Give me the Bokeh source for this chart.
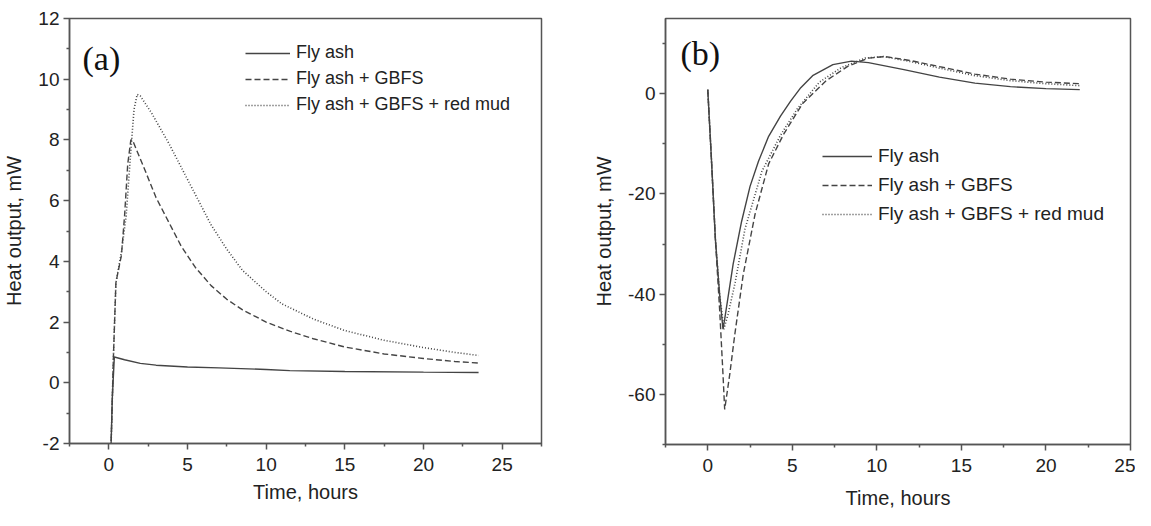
from bokeh.plotting import figure
from bokeh.layouts import row
from bokeh.models import FixedTicker, Range1d, Legend, LegendItem, Label
from bokeh.embed import file_html
from bokeh.resources import INLINE

# ---------------- Panel (a) data ----------------
a_fly_x = [0.12, 0.22, 0.35, 1.0, 2.0, 3.0, 5.0, 7.0, 10.0, 11.5, 15.0, 20.0, 23.5]
a_fly_y = [-2.5, -0.5, 0.85, 0.76, 0.64, 0.58, 0.52, 0.49, 0.44, 0.40, 0.37, 0.35, 0.34]

a_gbfs_x = [0.12, 0.3, 0.45, 0.8, 1.0, 1.2, 1.4, 1.5, 2.3, 3.0, 3.8, 4.6, 5.5, 6.5, 7.5, 8.5,
            10.0, 11.5, 13.0, 15.0, 17.5, 20.0, 22.0, 23.5]
a_gbfs_y = [-2.5, 1.0, 3.3, 4.2, 5.5, 7.2, 8.0, 8.0, 7.0, 6.1, 5.3, 4.5, 3.8, 3.2, 2.75, 2.4,
            2.0, 1.7, 1.45, 1.18, 0.95, 0.8, 0.7, 0.65]

a_red_x = [0.12, 0.3, 0.45, 0.8, 1.1, 1.35, 1.6, 1.8, 2.0, 2.7, 3.8, 4.6, 5.5, 6.5, 7.5, 8.5,
           10.0, 11.0, 13.0, 15.0, 17.5, 20.0, 22.0, 23.5]
a_red_y = [-2.5, 1.0, 3.3, 4.3, 5.5, 7.3, 9.0, 9.5, 9.45, 8.9, 7.9, 7.1, 6.2, 5.2, 4.4, 3.7,
           3.0, 2.6, 2.1, 1.72, 1.4, 1.16, 1.0, 0.9]

# ---------------- Panel (b) data ----------------
b_fly_x = [0.0, 0.2, 0.45, 0.7, 0.9, 1.0, 1.5, 2.0, 2.5, 3.0, 3.6, 4.3, 4.9, 5.5, 6.2, 7.4,
           8.5, 9.5, 11.6, 13.7, 15.8, 17.9, 20.0, 22.0]
b_fly_y = [0.8, -12, -29, -40, -47, -45, -34, -25.5, -18.5, -13.5, -8.5, -4.5, -1.5, 1.2, 3.6, 5.8,
           6.5, 6.2, 4.8, 3.3, 2.1, 1.4, 1.0, 0.8]

b_gbfs_x = [0.0, 0.2, 0.45, 0.7, 0.9, 1.0, 1.3, 1.6, 2.1, 2.8, 3.6, 4.5, 5.6, 7.0, 8.3, 9.5,
            10.5, 12.0, 13.7, 15.8, 17.9, 20.0, 22.0]
b_gbfs_y = [0.8, -12, -29, -43, -56, -63, -56, -48, -36, -24, -14, -8, -2, 2.6, 5.5, 7.1,
            7.4, 6.6, 5.4, 3.9, 2.9, 2.3, 2.0]

b_red_x = [0.0, 0.2, 0.45, 0.7, 0.95, 1.2, 1.6, 2.2, 3.2, 4.3, 5.3, 6.6, 7.9, 9.3, 10.4, 12.0,
           13.7, 15.8, 17.9, 20.0, 22.0]
b_red_y = [0.8, -12, -29, -40, -47, -44, -38, -27, -15.5, -8.3, -3, 2.3, 5.2, 7.1, 7.4, 6.4,
           5.1, 3.6, 2.6, 2.0, 1.6]

labels = ["Fly ash", "Fly ash + GBFS", "Fly ash + GBFS + red mud"]
x_major = [0, 5, 10, 15, 20, 25]
a_x_minor = [-2.5, 2.5, 7.5, 12.5, 17.5, 22.5, 27.5]
b_x_minor = [-2.5, 2.5, 7.5, 12.5, 17.5, 22.5]
a_y_major = [-2, 0, 2, 4, 6, 8, 10, 12]
a_y_minor = [-1, 1, 3, 5, 7, 9, 11]
b_y_major = [-60, -40, -20, 0]
b_y_minor = [-70, -50, -30, -10, 10]

AX = "#555555"
LC = "#444444"
FONT = "Liberation Sans"


def style(p, xmaj, xmin, ymaj, ymin, fs, xstand):
    p.title.visible = False
    p.grid.visible = False
    p.xaxis.ticker = FixedTicker(ticks=xmaj, minor_ticks=xmin)
    p.yaxis.ticker = FixedTicker(ticks=ymaj, minor_ticks=ymin)
    p.yaxis.major_label_overrides = {v: str(v) for v in ymaj}
    for ax in (p.xaxis, p.yaxis):
        ax.axis_line_color = AX
        ax.axis_line_width = 1.5
        ax.major_tick_line_color = AX
        ax.major_tick_line_width = 1.5
        ax.minor_tick_line_color = AX
        ax.minor_tick_line_width = 1.5
        ax.major_tick_in = 0
        ax.major_tick_out = 6
        ax.minor_tick_in = 0
        ax.minor_tick_out = 3
        ax.major_label_text_font = FONT
        ax.major_label_text_font_size = fs
        ax.major_label_text_color = "#222222"
        ax.axis_label_text_font = FONT
        ax.axis_label_text_font_size = "20px"
        ax.axis_label_text_font_style = "normal"
        ax.axis_label_text_color = "#222222"
    p.xaxis.major_label_standoff = 8
    p.yaxis.major_label_standoff = 4
    p.xaxis.axis_label_standoff = xstand
    p.yaxis.axis_label_standoff = 10
    p.xaxis.axis_label = "Time, hours"
    p.yaxis.axis_label = "Heat output, mW"
    p.outline_line_color = AX
    p.outline_line_width = 1.5
    p.outline_line_alpha = 1.0


def add_curves(p, xs, ys, loc, gw, spacing, fs):
    dashes = ["solid", "6 3", "1 2"]
    widths = [1.4, 1.4, 1.6]
    items = []
    for x, y, d, w, lab in zip(xs, ys, dashes, widths, labels):
        r = p.line(x, y, line_color=LC, line_width=w, line_dash=d)
        items.append(LegendItem(label=lab, renderers=[r]))
    lg = Legend(items=items, location=loc, padding=0, margin=0, spacing=spacing,
                glyph_width=gw, glyph_height=20, label_height=20, label_standoff=6,
                border_line_alpha=0, background_fill_alpha=0,
                label_text_font=FONT, label_text_font_size=fs, label_text_color="#222222")
    p.add_layout(lg)


pa = figure(width=590, height=517, x_range=Range1d(-2.5, 27.5), y_range=Range1d(-2, 12),
            min_border_left=69, min_border_right=49, min_border_top=14, min_border_bottom=72,
            toolbar_location=None, output_backend="svg")
style(pa, x_major, a_x_minor, a_y_major, a_y_minor, "19px", 7)
add_curves(pa, [a_fly_x, a_gbfs_x, a_red_x], [a_fly_y, a_gbfs_y, a_red_y], (176, 328), 45, 5, "18px")
pa.add_layout(Label(x=13, y=385, x_units="screen", y_units="screen", text="(a)",
                    text_font="Liberation Serif", text_font_size="34px", text_color="#111111",
                    text_baseline="middle"))

pb = figure(width=545, height=518, x_range=Range1d(-2.5, 25), y_range=Range1d(-70, 15),
            min_border_left=65, min_border_right=5, min_border_top=18, min_border_bottom=74,
            toolbar_location=None, output_backend="svg")
style(pb, x_major, b_x_minor, b_y_major, b_y_minor, "19px", 12)
add_curves(pb, [b_fly_x, b_gbfs_x, b_red_x], [b_fly_y, b_gbfs_y, b_red_y], (157, 219), 50, 7, "19px")
pb.add_layout(Label(x=15, y=391, x_units="screen", y_units="screen", text="(b)",
                    text_font="Liberation Serif", text_font_size="34px", text_color="#111111",
                    text_baseline="middle"))

layout = row(pa, pb)
open("out.html", "w").write(file_html(layout, INLINE))
